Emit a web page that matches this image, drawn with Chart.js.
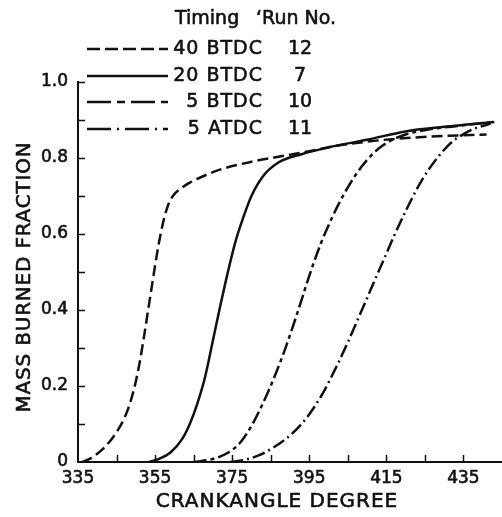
<!DOCTYPE html>
<html>
<head>
<meta charset="utf-8">
<title>Mass burned fraction vs crank angle</title>
<script src="https://cdn.jsdelivr.net/npm/chart.js@4.4.1/dist/chart.umd.min.js"></script>
<style>
  html, body { margin: 0; padding: 0; background: #fff; }
  #wrap { width: 502px; height: 517px; }
</style>
</head>
<body>
<div id="wrap"><canvas id="c" width="502" height="517"></canvas></div>
<script>
// Spark timing runs: crank angle (deg) and mass burned fraction
const timings = ['40 BTDC', '20 BTDC', '5 BTDC', '5 ATDC'];
const runNumbers = ['12', '7', '10', '11'];

const crank40BTDC  = [336, 338, 340, 342, 344, 346, 347, 348, 349, 350, 351, 352, 353, 354, 355, 356, 357, 358, 359, 360, 362, 364, 367, 372, 380, 388, 395, 402, 410, 418, 428, 441];
const burned40BTDC = [0, 0.008, 0.022, 0.04, 0.064, 0.095, 0.115, 0.14, 0.172, 0.212, 0.262, 0.322, 0.387, 0.452, 0.517, 0.577, 0.627, 0.665, 0.69, 0.705, 0.722, 0.735, 0.75, 0.77, 0.79, 0.805, 0.818, 0.832, 0.843, 0.851, 0.857, 0.862];

const crank20BTDC  = [353.5, 356, 359, 362, 364, 366, 368, 370, 372, 374, 376, 378, 380, 383, 387, 393, 400, 410, 420, 430, 443];
const burned20BTDC = [0, 0.008, 0.025, 0.06, 0.10, 0.155, 0.225, 0.32, 0.415, 0.505, 0.585, 0.647, 0.70, 0.752, 0.788, 0.81, 0.828, 0.848, 0.87, 0.882, 0.895];

const crank5BTDC  = [365, 370, 374, 377, 380, 383, 386, 389, 392, 395, 398, 401, 404, 407, 410, 413, 416, 420, 426, 434, 443];
const burned5BTDC = [0, 0.008, 0.025, 0.05, 0.095, 0.155, 0.225, 0.305, 0.395, 0.49, 0.575, 0.645, 0.705, 0.755, 0.795, 0.825, 0.845, 0.862, 0.875, 0.885, 0.895];

const crank5ATDC  = [374.5, 378, 382, 386, 390, 393, 396, 399, 402, 405, 408, 411, 414, 417, 420, 423, 426, 429, 432, 435, 438, 442];
const burned5ATDC = [0, 0.005, 0.018, 0.04, 0.07, 0.10, 0.14, 0.19, 0.25, 0.315, 0.385, 0.455, 0.525, 0.595, 0.66, 0.72, 0.77, 0.81, 0.842, 0.863, 0.878, 0.89];

const xTickLabels = [335, 355, 375, 395, 415, 435];
const xTickMarks  = [345, 355, 365, 375, 385, 395, 405, 415, 425, 435];
const yTickLabels = [0, 0.2, 0.4, 0.6, 0.8, 1.0];
const yTickMarks  = [0.1, 0.2, 0.3, 0.4, 0.5, 0.6, 0.7, 0.8, 0.9, 1.0];

const INK = '#111';
const FONT = '"DejaVu Sans", sans-serif';
const TEXT_STROKE = 0.6;

const toPoints = (xs, ys) => xs.map((x, i) => ({ x, y: ys[i] }));

// line style per run: dash in the plot, dash in the key
const styles = [
  { dash: [11, 5],         keyDash: [13, 5] },
  { dash: [],              keyDash: [] },
  { dash: [13, 4, 4, 4],   keyDash: [24, 6, 8, 6] },
  { dash: [13, 4, 2, 4],   keyDash: [24, 6, 2, 6] }
];

const series = [
  toPoints(crank40BTDC, burned40BTDC),
  toPoints(crank20BTDC, burned20BTDC),
  toPoints(crank5BTDC, burned5BTDC),
  toPoints(crank5ATDC, burned5ATDC)
];

const datasets = series.map((data, i) => ({
  label: timings[i],
  data,
  borderColor: INK,
  borderWidth: 2.5,
  borderDash: styles[i].dash,
  pointRadius: 0,
  fill: false,
  cubicInterpolationMode: 'monotone'
}));

function inkText(ctx, text, x, y) {
  ctx.fillText(text, x, y);
  ctx.strokeText(text, x, y);
}

// inward tick marks, axis titles and the timing / run key
const decorations = {
  id: 'decorations',
  afterDraw(chart) {
    const { ctx, chartArea: a, scales: { x, y } } = chart;
    ctx.save();
    ctx.strokeStyle = INK;
    ctx.lineWidth = 1.5;
    ctx.setLineDash([]);
    ctx.beginPath();
    xTickMarks.forEach(v => {
      const px = Math.round(x.getPixelForValue(v)) + 0.5;
      ctx.moveTo(px, a.bottom);
      ctx.lineTo(px, a.bottom - 7);
    });
    yTickMarks.forEach(v => {
      const py = Math.round(y.getPixelForValue(v)) + 0.5;
      ctx.moveTo(a.left, py);
      ctx.lineTo(a.left + 7, py);
    });
    ctx.stroke();

    ctx.fillStyle = INK;
    ctx.lineWidth = TEXT_STROKE;
    ctx.lineJoin = 'round';
    // x axis title
    ctx.font = '20px ' + FONT;
    ctx.letterSpacing = '1px';
    ctx.textAlign = 'center';
    ctx.textBaseline = 'middle';
    inkText(ctx, 'CRANKANGLE DEGREE', 277, 502);
    // y axis title
    ctx.save();
    ctx.translate(25, 277);
    ctx.rotate(-Math.PI / 2);
    ctx.letterSpacing = '0.8px';
    inkText(ctx, 'MASS BURNED FRACTION', 0, 0);
    ctx.restore();

    // key
    ctx.font = '19px ' + FONT;
    ctx.letterSpacing = '0px';
    ctx.textAlign = 'left';
    inkText(ctx, 'Timing', 175, 19);
    inkText(ctx, '\u2018Run No.', 256, 19);
    const rows = [49, 76, 102, 129];
    timings.forEach((t, i) => {
      const ry = rows[i];
      ctx.lineWidth = 2.5;
      ctx.setLineDash(styles[i].keyDash);
      ctx.beginPath();
      ctx.moveTo(87, ry);
      ctx.lineTo(168, ry);
      ctx.stroke();
      ctx.setLineDash([]);
      ctx.lineWidth = TEXT_STROKE;
      ctx.letterSpacing = '1px';
      ctx.textAlign = 'right';
      inkText(ctx, t, 263, ry);
      ctx.letterSpacing = '0px';
      ctx.textAlign = 'center';
      inkText(ctx, runNumbers[i], 300, ry);
    });
    ctx.restore();
  }
};

new Chart(document.getElementById('c'), {
  type: 'line',
  data: { datasets },
  options: {
    responsive: false,
    devicePixelRatio: 1,
    animation: false,
    layout: { padding: { top: 82, right: 0, left: 0, bottom: 0 } },
    plugins: { legend: { display: false }, tooltip: { enabled: false } },
    scales: {
      x: {
        type: 'linear',
        min: 335,
        max: 445,
        grid: { display: false, drawTicks: false },
        border: { display: true, color: INK, width: 2 },
        afterBuildTicks: s => { s.ticks = xTickLabels.map(v => ({ value: v })); },
        afterFit: s => { s.height = 55; },
        ticks: {
          color: INK,
          font: { family: FONT, size: 17 },
          textStrokeColor: INK,
          textStrokeWidth: TEXT_STROKE,
          padding: 6,
          maxRotation: 0,
          autoSkip: false
        }
      },
      y: {
        type: 'linear',
        min: 0,
        max: 1.0,
        grid: { display: false, drawTicks: false },
        border: { display: true, color: INK, width: 2 },
        afterBuildTicks: s => { s.ticks = yTickLabels.map(v => ({ value: v })); },
        afterFit: s => { s.width = 78; },
        ticks: {
          color: INK,
          font: { family: FONT, size: 17 },
          textStrokeColor: INK,
          textStrokeWidth: TEXT_STROKE,
          padding: 10,
          autoSkip: false,
          callback: v => (v === 0 ? '0' : v.toFixed(1))
        }
      }
    }
  },
  plugins: [decorations]
});
</script>
</body>
</html>
